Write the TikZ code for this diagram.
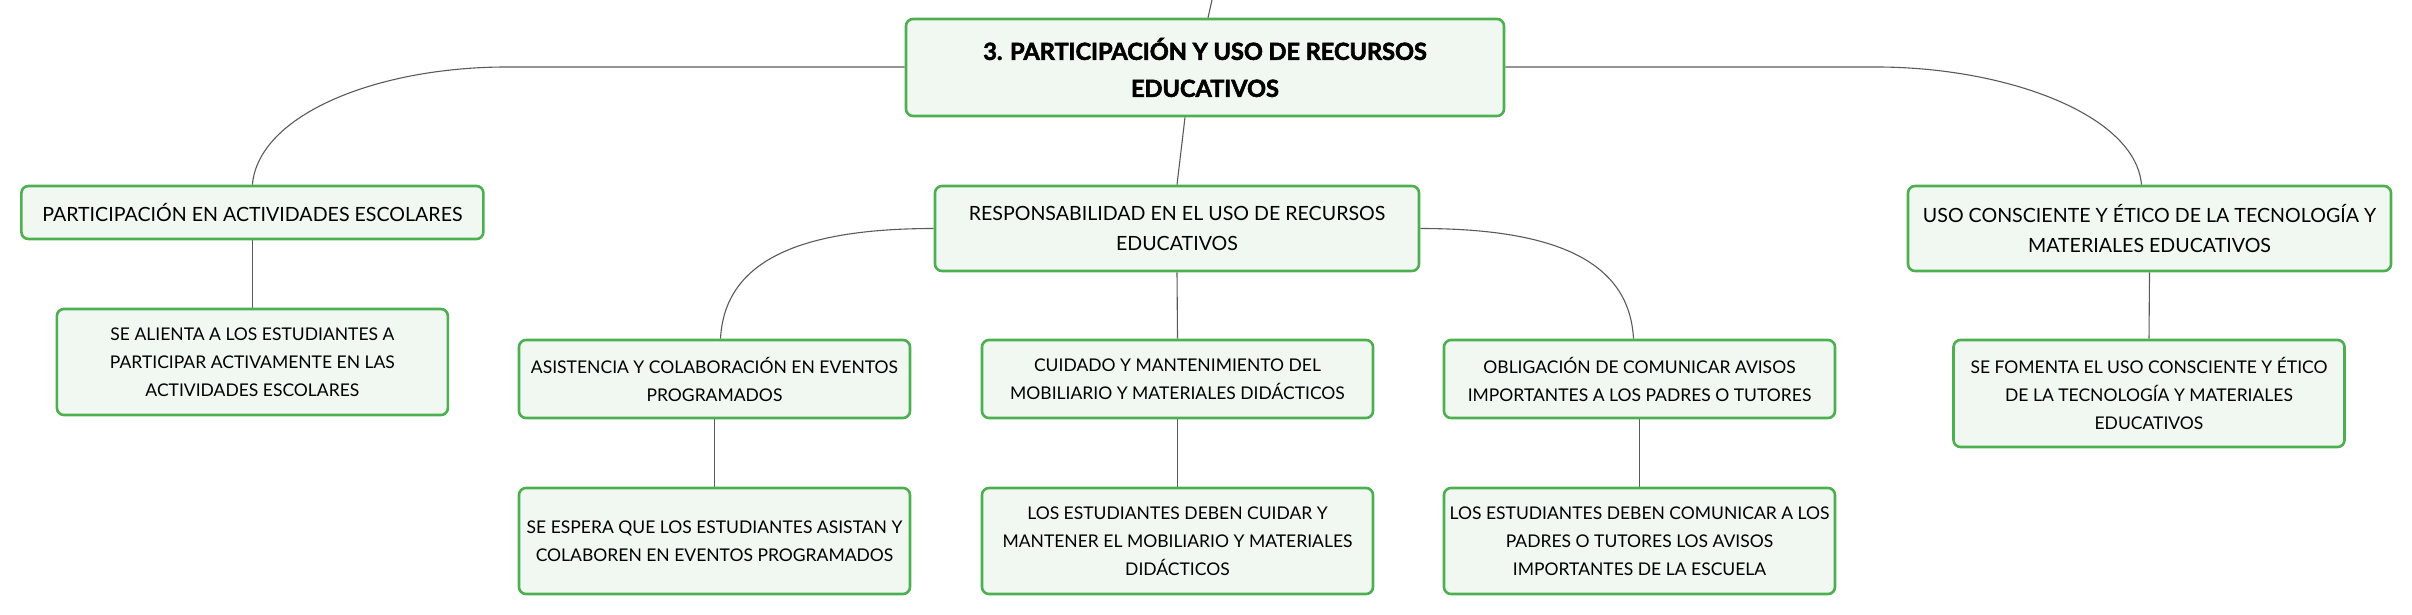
\documentclass[tikz,border=0pt]{standalone}
\usepackage{fontspec}
\setmainfont{Lato}
\newfontfamily\heavyfont{Lato}[BoldFeatures={FakeBold=2.4}]
\usetikzlibrary{calc,backgrounds}

\definecolor{boxgreen}{HTML}{4CAF50}
\definecolor{boxfill}{HTML}{F1F8F2}
\definecolor{linkgray}{HTML}{5A5A5A}

\begin{document}
\begin{tikzpicture}[x=1pt,y=-1pt]
    % --- Dimensions (1 unit = 1 px of the reference) ---
    \def\PicW{2412}       % Total width
    \def\PicH{615}        % Total height
    \def\BoxW{391}        % Width of the small boxes
    \def\RowA{340}        % Top of the second row of boxes
    \def\RowB{488}        % Top of the third row of boxes

    % --- Styles ---
    \tikzset{
        topic box/.style={
            draw=boxgreen,
            fill=boxfill,
            line width=2.6pt,
            rounded corners=7pt,
            align=center,
            inner sep=0pt
        },
        main text/.style={topic box, font=\heavyfont\bfseries\fontsize{23.5}{37}\selectfont},
        sub text/.style={topic box, font=\fontsize{19.6}{30}\selectfont},
        leaf text/.style={topic box, font=\fontsize{17.5}{28}\selectfont,
            minimum width=\BoxW},
        link/.style={draw=linkgray, line width=1.1pt}
    }

    \useasboundingbox (0,0) rectangle (\PicW,\PicH);

    % =========================================================
    % 1) CENTRAL TOPIC
    % =========================================================
    \node[main text, minimum width=598, minimum height=97] (root) at (1205,67.5)
        {3. PARTICIPACIÓN Y USO DE RECURSOS\\EDUCATIVOS};
    \coordinate (up) at (1212,0);

    % =========================================================
    % 2) MAIN BRANCHES
    % =========================================================
    \node[sub text, minimum width=462, minimum height=53] (part) at (252.4,212.5)
        {PARTICIPACIÓN EN ACTIVIDADES ESCOLARES};
    \node[sub text, minimum width=484, minimum height=85] (resp) at (1177,228.5)
        {RESPONSABILIDAD EN EL USO DE RECURSOS\\EDUCATIVOS};
    \node[sub text, minimum width=483, minimum height=85] (uso) at (2149.5,228.5)
        {USO CONSCIENTE Y ÉTICO DE LA TECNOLOGÍA Y\\MATERIALES EDUCATIVOS};

    % =========================================================
    % 3) SUB-BRANCHES AND DETAILS
    % =========================================================
    % --- under participation ---
    \node[leaf text, minimum height=106] (alienta) at (252.4,362)
        {SE ALIENTA A LOS ESTUDIANTES A\\PARTICIPAR ACTIVAMENTE EN LAS\\ACTIVIDADES ESCOLARES};

    % --- under responsibility ---
    \node[leaf text, minimum height=78] (asist) at (714.5,\RowA+39)
        {ASISTENCIA Y COLABORACIÓN EN EVENTOS\\PROGRAMADOS};
    \node[leaf text, minimum height=106] (espera) at (714.5,\RowB+53)
        {SE ESPERA QUE LOS ESTUDIANTES ASISTAN Y\\COLABOREN EN EVENTOS PROGRAMADOS};

    \node[leaf text, minimum height=78] (cuidado) at (1177.5,\RowA+39)
        {CUIDADO Y MANTENIMIENTO DEL\\MOBILIARIO Y MATERIALES DIDÁCTICOS};
    \node[leaf text, minimum height=106] (cuidar) at (1177.5,\RowB+53)
        {LOS ESTUDIANTES DEBEN CUIDAR Y\\MANTENER EL MOBILIARIO Y MATERIALES\\DIDÁCTICOS};

    \node[leaf text, minimum height=78] (oblig) at (1639.5,\RowA+39)
        {OBLIGACIÓN DE COMUNICAR AVISOS\\IMPORTANTES A LOS PADRES O TUTORES};
    \node[leaf text, minimum height=106] (comunicar) at (1639.5,\RowB+53)
        {LOS ESTUDIANTES DEBEN COMUNICAR A LOS\\PADRES O TUTORES LOS AVISOS\\IMPORTANTES DE LA ESCUELA};

    % --- under ethical use ---
    \node[leaf text, minimum height=107] (fomenta) at (2149,393.5)
        {SE FOMENTA EL USO CONSCIENTE Y ÉTICO\\DE LA TECNOLOGÍA Y MATERIALES\\EDUCATIVOS};

    % =========================================================
    % 4) CONNECTORS (on the background layer, behind the boxes)
    % =========================================================
    \begin{pgfonlayer}{background}
      \draw[link] ([xshift=3]root.north) -- (up);
      \draw[link] ([xshift=-20]root.south) -- (resp.north);
      \draw[link] ([yshift=0.5]root.west) -- ++(-398,0)
          .. controls +(-130,0) and +(6,-70) .. (part.north);
      \draw[link] ([yshift=0.5]root.east) -- ++(371,0)
          .. controls +(130,0) and +(-6,-70) .. ([xshift=-8]uso.north);
      \draw[link] (resp.west)
          .. controls +(-140,0) and +(4,-75) .. ([xshift=6]asist.north);
      \draw[link] (resp.east)
          .. controls +(140,0) and +(-4,-75) .. ([xshift=-6]oblig.north);

      % straight links between stacked boxes
      \draw[link] (part.south) -- (alienta.north);
      \draw[link] (resp.south) -- (cuidado.north);
      \draw[link] (asist.south) -- (espera.north);
      \draw[link] (cuidado.south) -- (cuidar.north);
      \draw[link] (oblig.south) -- (comunicar.north);
      \draw[link] (uso.south) -- (fomenta.north);
    \end{pgfonlayer}

\end{tikzpicture}
\end{document}
